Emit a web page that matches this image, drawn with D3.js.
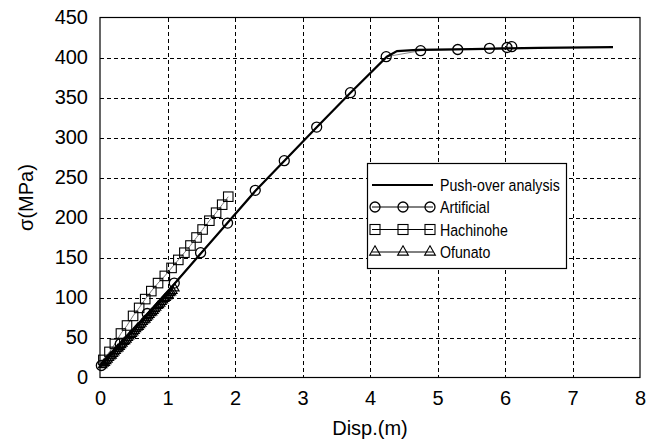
<!DOCTYPE html>
<html>
<head>
<meta charset="utf-8">
<script src="https://cdn.jsdelivr.net/npm/d3@7"></script>
<style>
  html, body { margin: 0; padding: 0; background: #fff; }
  svg { display: block; font-family: "Liberation Sans", Arial, sans-serif; }
</style>
</head>
<body>
<svg id="chart" width="661" height="441"></svg>
<script>
// Axis ticks
const xTicks = [0, 1, 2, 3, 4, 5, 6, 7, 8];
const yTicks = [0, 50, 100, 150, 200, 250, 300, 350, 400, 450];

// Series names (legend order)
const seriesNames = ["Push-over analysis", "Artificial", "Hachinohe", "Ofunato"];

// Push-over analysis curve: [disp (m), stress (MPa)]
const pushover = [
  [0.00, 13], [1.10, 117], [2.30, 233], [3.20, 312], [3.70, 355],
  [4.25, 401], [4.40, 408], [4.70, 409.5], [5.50, 410.5], [6.50, 412], [7.60, 413]
];

// Artificial record
const artificial = [
  [0.02, 15], [0.30, 42], [0.70, 80], [1.10, 118], [1.49, 156], [1.89, 193],
  [2.30, 234], [2.73, 271], [3.21, 313], [3.71, 356], [4.24, 401],
  [4.75, 408.5], [5.30, 410], [5.77, 411.5], [6.03, 412.5], [6.10, 413.5]
];

// Hachinohe record
const hachinohe = [
  [0.05, 22], [0.14, 32], [0.22, 42], [0.31, 55], [0.40, 65], [0.49, 77],
  [0.58, 87], [0.67, 98], [0.76, 108], [0.86, 118], [0.96, 127], [1.06, 137],
  [1.16, 147], [1.25, 156], [1.34, 165], [1.43, 175], [1.52, 185], [1.62, 196],
  [1.72, 206], [1.81, 216], [1.90, 226]
];

// Ofunato record
const ofunato = [
  [0.01, 14], [0.03, 16], [0.05, 17], [0.07, 19], [0.09, 21], [0.11, 23],
  [0.13, 25], [0.15, 26], [0.17, 28], [0.19, 30], [0.21, 32], [0.23, 34],
  [0.25, 35], [0.27, 37], [0.29, 39], [0.31, 41], [0.33, 43], [0.35, 44],
  [0.37, 46], [0.39, 48], [0.41, 50], [0.43, 52], [0.45, 53], [0.47, 55],
  [0.49, 57], [0.51, 59], [0.53, 61], [0.55, 62], [0.57, 64], [0.59, 66],
  [0.61, 68], [0.63, 70], [0.65, 71], [0.67, 73], [0.69, 75], [0.71, 77],
  [0.73, 79], [0.75, 80], [0.77, 82], [0.79, 84], [0.81, 86], [0.83, 88],
  [0.85, 89], [0.87, 91], [0.89, 93], [0.91, 95], [0.93, 97], [0.95, 98],
  [0.97, 100], [0.99, 102], [1.01, 104], [1.03, 105], [1.05, 107], [1.08, 110]
];

const svg = d3.select("#chart");
const x = d3.scaleLinear().domain([0, 8]).range([100, 640]);
const y = d3.scaleLinear().domain([0, 450]).range([377.5, 17.5]);

// Grid
const grid = svg.append("g").attr("stroke", "#000").attr("stroke-width", 1)
  .attr("stroke-dasharray", "4,3").attr("shape-rendering", "crispEdges");
grid.selectAll("line.v").data(xTicks.slice(1, -1)).join("line")
  .attr("x1", d => Math.round(x(d)) + 0.5).attr("x2", d => Math.round(x(d)) + 0.5)
  .attr("y1", y(450)).attr("y2", y(0));
grid.selectAll("line.h").data(yTicks.slice(1, -1)).join("line")
  .attr("x1", x(0)).attr("x2", x(8))
  .attr("y1", d => Math.round(y(d)) + 0.5).attr("y2", d => Math.round(y(d)) + 0.5);

// Frame
svg.append("rect")
  .attr("x", x(0)).attr("y", y(450))
  .attr("width", x(8) - x(0)).attr("height", y(0) - y(450))
  .attr("fill", "none").attr("stroke", "#000").attr("stroke-width", 1.2);

// Axes (labels only)
const xAxis = svg.append("g").attr("transform", `translate(0,${y(0)})`)
  .call(d3.axisBottom(x).tickValues(xTicks).tickFormat(d3.format("d")).tickSize(0).tickPadding(20));
const yAxis = svg.append("g").attr("transform", `translate(${x(0)},0)`)
  .call(d3.axisLeft(y).tickValues(yTicks).tickFormat(d3.format("d")).tickSize(0).tickPadding(12));
[xAxis, yAxis].forEach(a => {
  a.select(".domain").remove();
  a.selectAll("text").attr("font-size", 20).attr("fill", "#000")
    .attr("font-family", "'Liberation Sans', Arial, sans-serif");
});
xAxis.selectAll("text").attr("dy", "0.35em");

// Axis titles
svg.append("text").attr("x", x(4)).attr("y", 435)
  .attr("text-anchor", "middle").attr("font-size", 20).text("Disp.(m)");
svg.append("text").attr("transform", `translate(33,${y(225)}) rotate(-90)`)
  .attr("text-anchor", "middle").attr("font-size", 20).text("σ(MPa)");

const line = d3.line().x(d => x(d[0])).y(d => y(d[1]));

// Series lines
svg.append("path").datum(ofunato).attr("d", line)
  .attr("fill", "none").attr("stroke", "#666").attr("stroke-width", 1);
svg.append("path").datum(hachinohe).attr("d", line)
  .attr("fill", "none").attr("stroke", "#777").attr("stroke-width", 1);
svg.append("path").datum(artificial).attr("d", line)
  .attr("fill", "none").attr("stroke", "#888").attr("stroke-width", 1);
svg.append("path").datum(pushover).attr("d", line)
  .attr("fill", "none").attr("stroke", "#000").attr("stroke-width", 2.2);

// Markers
const tri = d3.symbol().type(d3.symbolTriangle).size(30);
const sq = 9.5;
svg.append("g").selectAll("path").data(ofunato).join("path")
  .attr("transform", d => `translate(${x(d[0]) + 2},${y(d[1]) - 1})`)
  .attr("d", tri()).attr("fill", "none").attr("stroke", "#000").attr("stroke-width", 1.2);
svg.append("g").selectAll("rect").data(hachinohe).join("rect")
  .attr("x", d => x(d[0]) - sq / 2).attr("y", d => y(d[1]) - sq / 2)
  .attr("width", sq).attr("height", sq)
  .attr("fill", "none").attr("stroke", "#000").attr("stroke-width", 1.1);
svg.append("g").selectAll("circle").data(artificial).join("circle")
  .attr("cx", d => x(d[0])).attr("cy", d => y(d[1])).attr("r", 5)
  .attr("fill", "none").attr("stroke", "#000").attr("stroke-width", 1.3);

// Legend
const lg = svg.append("g");
lg.append("rect").attr("x", 367.5).attr("y", 163.5).attr("width", 199).attr("height", 105)
  .attr("fill", "#fff").attr("stroke", "#000").attr("stroke-width", 1.2);
const rowY = [185, 207, 229.5, 252];
const sx = [375, 403, 430];
seriesNames.forEach((name, i) => {
  const ry = rowY[i];
  lg.append("line").attr("x1", 372).attr("x2", 433).attr("y1", ry).attr("y2", ry)
    .attr("stroke", "#000").attr("stroke-width", i === 0 ? 2.2 : 1);
  if (i === 1) {
    sx.forEach(cx => lg.append("circle").attr("cx", cx).attr("cy", ry).attr("r", 5)
      .attr("fill", "none").attr("stroke", "#000").attr("stroke-width", 1.3));
  } else if (i === 2) {
    sx.forEach(cx => lg.append("rect").attr("x", cx - 5).attr("y", ry - 5)
      .attr("width", 10).attr("height", 10)
      .attr("fill", "none").attr("stroke", "#000").attr("stroke-width", 1.1));
  } else if (i === 3) {
    sx.forEach(cx => lg.append("path").attr("transform", `translate(${cx},${ry})`)
      .attr("d", d3.symbol().type(d3.symbolTriangle).size(50)())
      .attr("fill", "none").attr("stroke", "#000").attr("stroke-width", 1.1));
  }
  lg.append("text").attr("transform", `translate(440,${ry + 6}) scale(0.86,1)`)
    .attr("font-size", 16.5).attr("fill", "#000").text(name);
});
</script>
</body>
</html>
